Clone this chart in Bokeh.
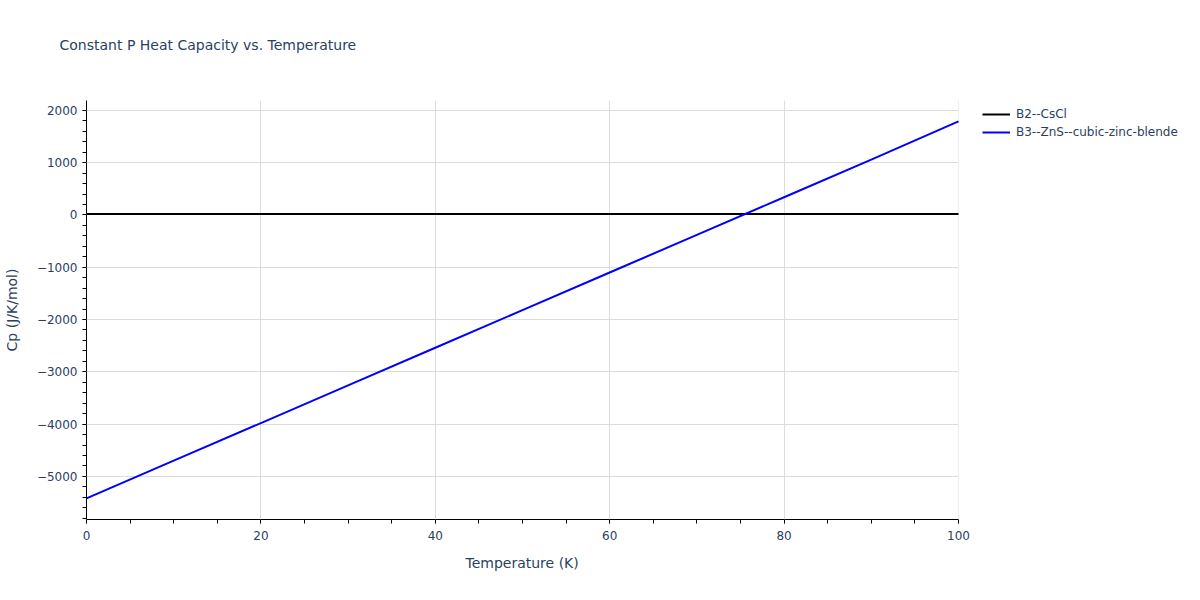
from bokeh.plotting import figure
from bokeh.models import (Legend, LegendItem, SingleIntervalTicker,
                          CustomJSTickFormatter, Range1d, BoxAnnotation, Title)
from bokeh.embed import file_html
from bokeh.resources import INLINE

# values
temperature = [0, 10, 20, 30, 40, 50, 60, 70, 80, 90, 100]
cp_b2_cscl = [20, 20, 20, 20, 20, 20, 20, 20, 20, 20, 20]
cp_b3_zns = [-5420, -4700, -3980, -3260, -2540, -1820, -1100, -380, 340, 1060, 1790]

text_color = "#2a3f5f"
font = "DejaVu Sans"

# the frame runs on past 100 K so the legend can sit inside it, to the right
# of the data; that strip is blanked out below
p = figure(frame_width=1100, frame_height=419, output_backend="svg",
           toolbar_location=None,
           x_range=Range1d(0, 126.15), y_range=Range1d(-5825, 2190),
           min_border_left=70, min_border_right=0, min_border_top=100,
           min_border_bottom=60)
p.outline_line_color = None

p.title.text = "Constant P Heat Capacity vs. Temperature"
p.title.text_font = font
p.title.text_font_size = "14px"
p.title.text_font_style = "normal"
p.title.text_color = text_color
p.title.align = "left"
p.title.offset = -27
p.title.standoff = 0

# blank spacer between the frame and the title
p.add_layout(Title(text=" ", standoff=30, text_font=font,
                   text_font_size="14px"), "above")

l1 = p.line(temperature, cp_b2_cscl, line_color="black", line_width=2)
l2 = p.line(temperature, cp_b3_zns, line_color="blue", line_width=2)

# axes
p.xaxis.ticker = SingleIntervalTicker(interval=20, num_minor_ticks=4)
p.yaxis.ticker = SingleIntervalTicker(interval=1000, num_minor_ticks=5)
p.yaxis.formatter = CustomJSTickFormatter(
    code="return tick < 0 ? '\u2212' + Math.abs(tick) : tick.toString();")
p.xaxis.bounds = (0, 100)

for ax in (p.xaxis[0], p.yaxis[0]):
    ax.axis_line_color = "black"
    ax.axis_line_width = 1
    ax.major_tick_line_color = "#c8c8c8"
    ax.major_tick_out = 5
    ax.major_tick_in = 0
    ax.minor_tick_line_color = "black"
    ax.minor_tick_out = 4
    ax.minor_tick_in = 0
    ax.major_label_text_font = font
    ax.major_label_text_font_size = "12px"
    ax.major_label_text_color = text_color
    ax.axis_label_text_font = font
    ax.axis_label_text_font_size = "14px"
    ax.axis_label_text_color = text_color
    ax.axis_label_text_font_style = "normal"

p.yaxis.axis_label = "Cp (J/K/mol)"
p.xaxis.major_label_standoff = 6
p.yaxis.major_label_standoff = 4
p.yaxis.axis_label_standoff = 14

# x axis title centred under 0..100 K rather than the whole frame
p.add_layout(Title(text="Temperature (K)", align="left", offset=379,
                   standoff=20, text_font=font, text_font_size="14px",
                   text_font_style="normal", text_color=text_color), "below")

p.grid.grid_line_color = "#dcdcdc"
p.grid.grid_line_width = 1

# blank out the grid to the right of 100 K
p.add_layout(BoxAnnotation(left=100, fill_color="white", fill_alpha=1,
                           line_color=None, level="underlay"))

legend = Legend(items=[LegendItem(label="B2--CsCl", renderers=[l1]),
                       LegendItem(label="B3--ZnS--cubic-zinc-blende", renderers=[l2])],
                location=(896, 378), margin=0, padding=0, spacing=0,
                glyph_width=28, glyph_height=18, label_height=18,
                label_standoff=6, label_text_font=font,
                label_text_font_size="12px", label_text_color=text_color,
                background_fill_alpha=0, border_line_color=None)
p.add_layout(legend)

open("out.html", "w").write(file_html(p, INLINE))
